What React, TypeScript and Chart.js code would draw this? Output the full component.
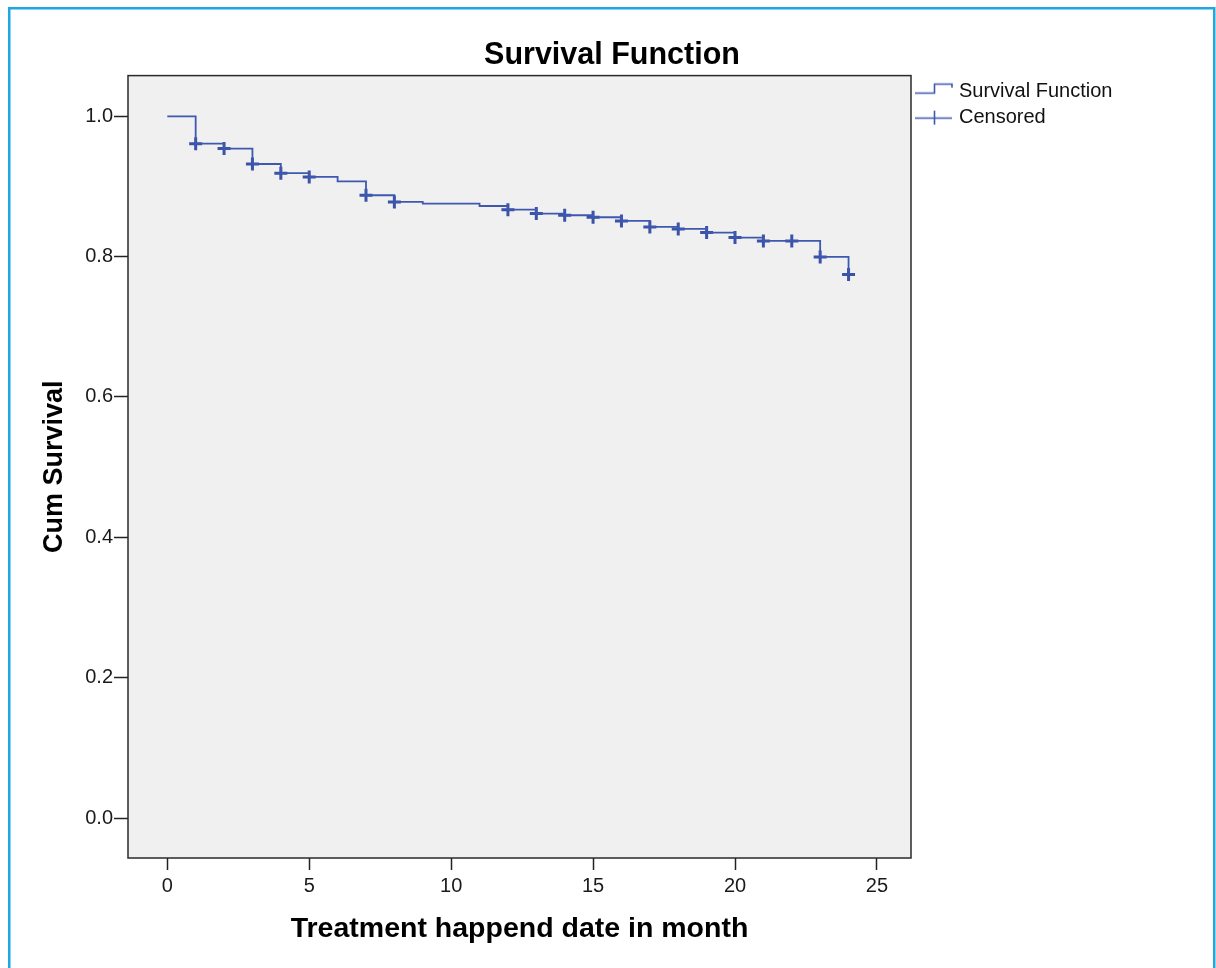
import React, { useEffect, useRef } from 'react';
import { Chart, registerables } from 'chart.js';

Chart.register(...registerables);

// ---- Data ----
const months = [0, 1, 2, 3, 4, 5, 6, 7, 8, 9, 11, 12, 13, 14, 15, 16, 17, 18, 19, 20, 21, 22, 23, 24];
const survival = [1.0, 0.961, 0.954, 0.932, 0.919, 0.9136, 0.9074, 0.8875, 0.878, 0.8756, 0.8722, 0.867, 0.8614, 0.859, 0.8561, 0.8509, 0.8423, 0.8395, 0.8343, 0.8272, 0.8224, 0.8224, 0.7996, 0.7745];
const censoredMonths = [1, 2, 3, 4, 5, 7, 8, 12, 13, 14, 15, 16, 17, 18, 19, 20, 21, 22, 23, 24];
const xTickValues = [0, 5, 10, 15, 20, 25];
const yTickValues = [0, 0.2, 0.4, 0.6, 0.8, 1.0];
const legendLabels = ['Survival Function', 'Censored'];
const chartTitle = 'Survival Function';
const xTitle = 'Treatment happend date in month';
const yTitle = 'Cum Survival';

const LINE_COLOR = '#3F58AF';
const CROSS_COLOR = '#3A52A8';
const FONT = "'Liberation Sans', Arial, sans-serif";

function makeStepIcon(): HTMLCanvasElement {
  const c = document.createElement('canvas');
  c.width = 40;
  c.height = 20;
  const ctx = c.getContext('2d')!;
  ctx.strokeStyle = LINE_COLOR;
  ctx.lineWidth = 1.6;
  ctx.beginPath();
  ctx.moveTo(2, 11.5);
  ctx.lineTo(21.5, 11.5);
  ctx.lineTo(21.5, 2.5);
  ctx.lineTo(39, 2.5);
  ctx.lineTo(39, 6);
  ctx.stroke();
  return c;
}

function makeCensorIcon(): HTMLCanvasElement {
  const c = document.createElement('canvas');
  c.width = 40;
  c.height = 20;
  const ctx = c.getContext('2d')!;
  ctx.strokeStyle = LINE_COLOR;
  ctx.lineWidth = 1.6;
  ctx.beginPath();
  ctx.moveTo(2, 10.5);
  ctx.lineTo(39, 10.5);
  ctx.moveTo(21.5, 3);
  ctx.lineTo(21.5, 17);
  ctx.stroke();
  return c;
}

const framePlugin = {
  id: 'framePlugin',
  beforeDraw(chart: any) {
    const { ctx, chartArea } = chart;
    ctx.save();
    ctx.strokeStyle = '#1CA8E0';
    ctx.lineWidth = 2.5;
    ctx.strokeRect(9.25, 8.25, 1205, 1000);
    ctx.fillStyle = '#F0F0F0';
    ctx.fillRect(chartArea.left, chartArea.top, chartArea.right - chartArea.left, chartArea.bottom - chartArea.top);
    ctx.restore();
  },
  afterDraw(chart: any) {
    const { ctx, chartArea } = chart;
    ctx.save();
    ctx.strokeStyle = '#2a2a2a';
    ctx.lineWidth = 1.5;
    ctx.strokeRect(chartArea.left, chartArea.top, chartArea.right - chartArea.left, chartArea.bottom - chartArea.top);
    ctx.restore();
  },
};

// Reserve a fixed width for the legend column on the right.
const legendWidthPlugin = {
  id: 'legendWidthPlugin',
  beforeLayout(chart: any) {
    const lg = chart.legend;
    if (lg && !lg.__patched) {
      const orig = lg.fit;
      lg.fit = function (this: any) {
        orig.call(this);
        this.width = 305;
      };
      lg.__patched = true;
    }
  },
};

export default function App() {
  const canvasRef = useRef<HTMLCanvasElement | null>(null);

  useEffect(() => {
    if (!canvasRef.current) return;
    const stepIcon = makeStepIcon();
    const censorIcon = makeCensorIcon();

    const lineData = months.map((m, i) => ({ x: m, y: survival[i] }));
    const censorData = censoredMonths.map((m) => ({ x: m, y: survival[months.indexOf(m)] }));

    const chart = new Chart(canvasRef.current, {
      type: 'scatter',
      data: {
        datasets: [
          {
            label: legendLabels[0],
            data: lineData,
            showLine: true,
            stepped: true,
            borderColor: LINE_COLOR,
            borderWidth: 1.8,
            pointRadius: 0,
            fill: false,
          },
          {
            label: legendLabels[1],
            data: censorData,
            showLine: false,
            pointStyle: 'cross',
            pointRadius: 6.5,
            pointBorderWidth: 3,
            pointBorderColor: CROSS_COLOR,
            pointBackgroundColor: CROSS_COLOR,
          },
        ],
      } as any,
      options: {
        responsive: false,
        animation: false,
        events: [],
        layout: { padding: { left: 8, top: 0, right: 0, bottom: 0 } },
        plugins: {
          tooltip: { enabled: false },
          title: {
            display: true,
            text: chartTitle,
            color: '#000',
            font: { family: FONT, size: 30.5, weight: 'bold' },
            padding: { top: 37, bottom: 2 },
          },
          legend: {
            display: true,
            position: 'right',
            align: 'start',
            fullSize: false,
            labels: {
              usePointStyle: true,
              pointStyleWidth: 32,
              padding: 6,
              color: '#111',
              font: { family: FONT, size: 20 },
              generateLabels: () => [
                { text: legendLabels[0], pointStyle: stepIcon, fillStyle: 'transparent', strokeStyle: 'transparent', lineWidth: 0, hidden: false, datasetIndex: 0, fontColor: '#111' },
                { text: legendLabels[1], pointStyle: censorIcon, fillStyle: 'transparent', strokeStyle: 'transparent', lineWidth: 0, hidden: false, datasetIndex: 1, fontColor: '#111' },
              ],
            },
          },
        },
        scales: {
          x: {
            type: 'linear',
            min: -1.384,
            max: 26.2,
            afterFit: (scale: any) => { scale.height = 110; },
            afterBuildTicks: (scale: any) => { scale.ticks = xTickValues.map((v) => ({ value: v })); },
            border: { display: false },
            grid: { display: true, drawOnChartArea: false, drawTicks: true, tickLength: 12, tickColor: '#222', tickWidth: 1.5 },
            ticks: {
              color: '#1a1a1a',
              padding: 4,
              font: { family: FONT, size: 20 },
              maxRotation: 0,
              callback: (v: any) => String(v),
            },
            title: {
              display: true,
              text: xTitle,
              color: '#000',
              font: { family: FONT, size: 28.5, weight: 'bold' },
              padding: { top: 0, bottom: 22 },
            },
          },
          y: {
            type: 'linear',
            min: -0.057,
            max: 1.058,
            afterFit: (scale: any) => { scale.width = 120; },
            afterBuildTicks: (scale: any) => { scale.ticks = yTickValues.map((v) => ({ value: v })); },
            border: { display: false },
            grid: { display: true, drawOnChartArea: false, drawTicks: true, tickLength: 14, tickColor: '#222', tickWidth: 1.5 },
            ticks: {
              color: '#1a1a1a',
              padding: 1,
              font: { family: FONT, size: 20 },
              callback: (v: any) => Number(v).toFixed(1),
            },
            title: {
              display: true,
              text: yTitle,
              color: '#000',
              font: { family: FONT, size: 27, weight: 'bold' },
              padding: { top: 30, bottom: 0 },
            },
          },
        },
      } as any,
      plugins: [framePlugin, legendWidthPlugin],
    });

    return () => chart.destroy();
  }, []);

  return (
    <div style={{ position: 'fixed', left: 0, top: 0, width: 1216, height: 968, background: '#fff' }}>
      <canvas ref={canvasRef} width={1216} height={968} style={{ width: 1216, height: 968, display: 'block' }} />
    </div>
  );
}
